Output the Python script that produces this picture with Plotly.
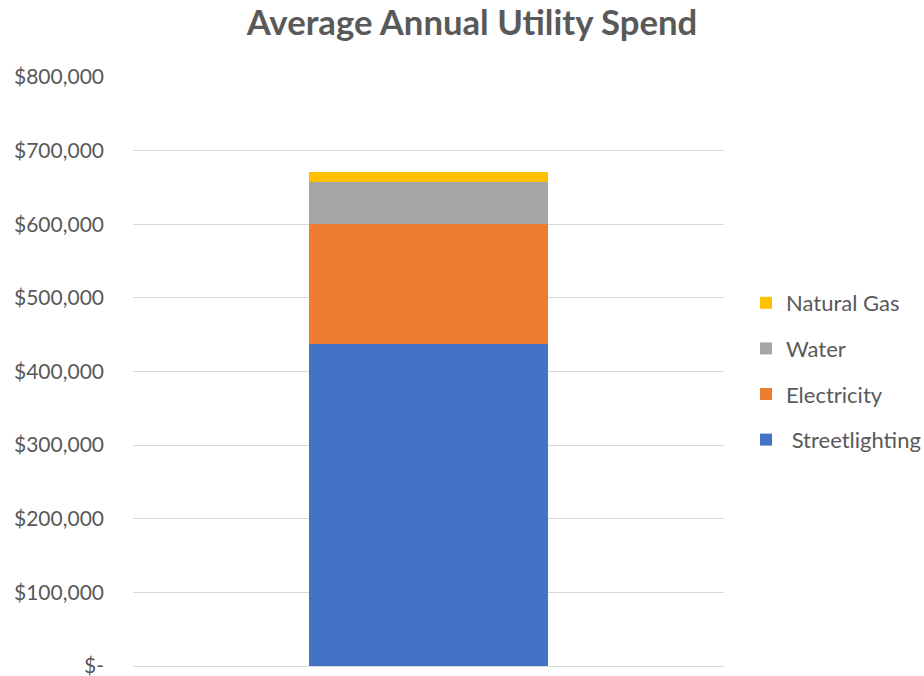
import plotly.graph_objects as go

categories = [""]
series_names = ["Streetlighting", "Electricity", "Water", "Natural Gas"]
streetlighting = [438000]
electricity = [163000]
water = [57000]
natural_gas = [12500]
series_values = [streetlighting, electricity, water, natural_gas]
legend_ranks = [4, 3, 2, 1]
colors = ["#4472C4", "#ED7D31", "#A5A5A5", "#FFC000"]
tick_vals = [0, 100000, 200000, 300000, 400000, 500000, 600000, 700000, 800000]
tick_text = ["$-", "$100,000", "$200,000", "$300,000", "$400,000",
             "$500,000", "$600,000", "$700,000", "$800,000"]

FONT = "Lato"
fig = go.Figure()
for name, vals, col, rank in zip(series_names, series_values, colors, legend_ranks):
    fig.add_trace(go.Bar(x=categories, y=vals, name=(" " + name if name == "Streetlighting" else name),
                         marker=dict(color=col, line=dict(width=0)),
                         legendgroup=name, legendrank=rank, width=0.403))

fig.update_layout(
    width=924, height=676,
    barmode="stack",
    paper_bgcolor="white", plot_bgcolor="white",
    margin=dict(l=133, r=200, t=77, b=10, autoexpand=False),
    title=dict(text="<b>Average Annual Utility Spend</b>", x=472 / 924, xanchor="center",
               xref="container", yref="container",
               y=1 - 23 / 676, yanchor="middle",
               font=dict(family=FONT, size=34.7, color="#595959")),
    font=dict(family=FONT, size=21, color="#595959"),
    legend=dict(traceorder="grouped", tracegroupgap=14,
                x=(746 - 133) / 591, xanchor="left", y=0.5, yanchor="middle",
                font=dict(family=FONT, size=22, color="#595959"),
                itemwidth=30),
    showlegend=True,
)
fig.update_xaxes(showticklabels=False, showgrid=False, zeroline=False,
                 showline=True, linecolor="#D9D9D9", linewidth=1, range=[-0.5, 0.5],
                 automargin=False)
fig.update_yaxes(range=[0, 800000], tickvals=tick_vals, ticktext=tick_text,
                 showgrid=True, gridcolor="#D9D9D9", gridwidth=1, zeroline=False,
                 showline=False, ticklabelstandoff=28, ticklabeloverflow="allow",
                 automargin=False,
                 tickfont=dict(family=FONT, size=21, color="#595959"))

fig.write_html("out.html", config={"displayModeBar": False},
               post_script="document.body.style.margin='0';document.body.style.overflow='hidden';")
